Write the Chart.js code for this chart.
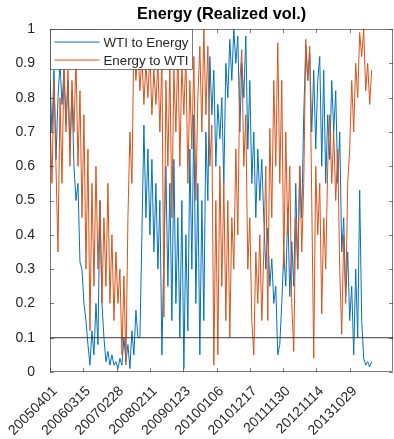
<!DOCTYPE html>
<html>
<head>
<meta charset="utf-8">
<script src="https://cdn.jsdelivr.net/npm/chart.js@4.4.0/dist/chart.umd.min.js"></script>
<style>
  body { margin: 0; background: #fff; }
  canvas { display: block; }
</style>
</head>
<body>
<canvas id="myChart" width="394" height="439"></canvas>
<script>
// tick labels on the x axis (week number -> date)
var tickWeeks = [1, 51, 101, 151, 201, 251, 301, 351, 401, 451];
var tickDates = ["20050401", "20060315", "20070228", "20080211", "20090123",
                 "20100106", "20101217", "20111130", "20121114", "20131029"];

// values, one every 3 weeks
var wtiToEnergy = [
  0.85, 0.7, 0.88, 0.62, 0.8, 0.9, 0.78, 0.88, 0.72, 0.85,
  0.65, 0.82, 0.6, 0.5, 0.55, 0.32, 0.3, 0.2, 0.15, 0.08,
  0.02, 0.12, 0.05, 0.2, 0.08, 0.5, 0.2, 0.1, 0.03, 0.06,
  0.02, 0.05, 0.02, 0.03, 0.01, 0.04, 0.02, 0.1, 0.03, 0.08,
  0.01, 0.12, 0.05, 0.18, 0.1, 0.1, 0.4, 0.72, 0.45, 0.65,
  0.4, 0.62, 0.35, 0.55, 0.3, 0.5, 0.05, 0.35, 0.6, 0.25,
  0.55, 0.15, 0.62, 0.2, 0.45, 0.1, 0.5, 0.01, 0.4, 0.12,
  0.65, 0.3, 0.75, 0.2, 0.55, 0.05, 0.5, 0.15, 0.7, 0.5,
  0.92, 0.75, 0.88, 0.6, 0.78, 0.68, 0.8, 0.55, 0.9, 0.8,
  0.97, 0.85, 1.0, 0.9, 0.98, 0.7, 0.9, 0.8, 0.98, 0.65,
  0.85, 0.55, 0.7, 0.45, 0.65, 0.5, 0.62, 0.45, 0.3, 0.42,
  0.25, 0.33, 0.2, 0.25, 0.05, 0.08, 0.2, 0.35, 0.25, 0.48,
  0.22, 0.38, 0.25, 0.55, 0.3, 0.6, 0.45, 0.75, 0.95, 0.85,
  0.93, 0.7, 0.88, 0.65, 0.85, 0.92, 0.6, 0.88, 0.55, 0.75,
  0.62, 0.85, 0.7, 0.82, 0.55, 0.7, 0.35, 0.45, 0.22, 0.35,
  0.15, 0.25, 0.05, 0.3, 0.1, 0.53, 0.15, 0.04, 0.02, 0.03,
  0.015, 0.03
];
var energyToWti = [
  0.75, 0.55, 0.85, 0.6, 0.35, 0.8, 0.55, 0.9, 0.7, 0.88,
  0.6, 0.85, 0.7, 0.92, 0.6, 0.82, 0.45, 0.75, 0.3, 0.65,
  0.12, 0.55, 0.25, 0.6, 0.3, 0.5, 0.2, 0.45, 0.25, 0.55,
  0.2, 0.4, 0.15, 0.35, 0.2, 0.3, 0.05, 0.28, 0.02, 0.45,
  0.7, 0.55, 0.98, 0.85, 0.95, 0.82, 0.92, 0.78, 0.9, 0.8,
  0.93, 0.75, 0.88, 0.78, 0.9, 0.7, 0.92, 0.16, 0.85, 0.6,
  0.9, 0.45, 0.88, 0.7, 0.95, 0.6, 0.9, 0.75, 0.93, 0.55,
  0.85, 0.65, 0.92, 0.5, 0.8, 0.95, 0.7, 1.0, 0.75, 0.95,
  0.6, 0.72, 0.02, 0.5, 0.05, 0.6, 0.25, 0.55, 0.15, 0.5,
  0.1, 0.45, 0.3, 0.65, 0.4, 0.85, 0.94, 0.6, 0.75, 0.3,
  0.45, 0.15, 0.05, 0.35, 0.2, 0.4, 0.15, 0.35, 0.6, 0.15,
  0.71, 0.45, 0.85, 0.6, 0.96, 0.55, 0.85, 0.3, 0.7, 0.4,
  0.6, 0.2, 0.06, 0.45, 0.3, 0.6, 0.35, 0.55, 0.97, 0.85,
  0.95, 0.5, 0.04, 0.6, 0.4, 0.55, 0.17, 0.45, 0.3, 0.6,
  0.75, 0.55, 0.7, 0.5, 0.65, 0.3, 0.11, 0.4, 0.2, 0.55,
  0.65, 0.85, 0.7, 0.9, 0.8, 0.99, 0.92, 1.0, 0.82, 0.9,
  0.78, 0.88
];
var threshold = 0.1;

function toPoints(vals) {
  return vals.map(function (v, i) { return { x: 1 + 3 * i, y: v }; });
}

var fontFam = "'Liberation Sans', Arial, Helvetica, sans-serif";
var axisCol = "#262626";

// MATLAB style box, inward ticks and legend
var boxPlugin = {
  id: "boxPlugin",
  afterDraw: function (chart) {
    var ctx = chart.ctx, a = chart.chartArea;
    var xs = chart.scales.x, ys = chart.scales.y;
    ctx.save();
    ctx.strokeStyle = axisCol;
    ctx.lineWidth = 0.6;
    ctx.strokeRect(a.left + 0.5, a.top + 0.5, a.right - a.left - 1, a.bottom - a.top - 1);
    ctx.beginPath();
    xs.ticks.forEach(function (t) {
      var px = Math.round(xs.getPixelForValue(t.value)) + 0.5;
      ctx.moveTo(px, a.bottom); ctx.lineTo(px, a.bottom - 4);
      ctx.moveTo(px, a.top); ctx.lineTo(px, a.top + 4);
    });
    ys.ticks.forEach(function (t) {
      var py = Math.round(ys.getPixelForValue(t.value)) + 0.5;
      ctx.moveTo(a.left, py); ctx.lineTo(a.left + 4, py);
      ctx.moveTo(a.right, py); ctx.lineTo(a.right - 4, py);
    });
    ctx.stroke();

    // legend
    var lx = a.left + 0.5, ly = a.top + 0.5, lw = 142, lh = 40;
    ctx.fillStyle = "#fff";
    ctx.fillRect(lx, ly, lw, lh);
    ctx.strokeStyle = axisCol;
    ctx.lineWidth = 0.6;
    ctx.strokeRect(lx, ly, lw, lh);
    var items = [
      { label: chart.data.datasets[2].label, color: chart.data.datasets[2].borderColor },
      { label: chart.data.datasets[1].label, color: chart.data.datasets[1].borderColor }
    ];
    ctx.font = "13.3px " + fontFam;
    ctx.textBaseline = "middle";
    items.forEach(function (it, k) {
      var yy = ly + 12.5 + k * 18;
      ctx.strokeStyle = it.color;
      ctx.lineWidth = 1;
      ctx.beginPath();
      ctx.moveTo(lx + 4, yy); ctx.lineTo(lx + 49, yy);
      ctx.stroke();
      ctx.fillStyle = axisCol;
      ctx.fillText(it.label, lx + 53, yy + 1);
    });
    ctx.restore();
  }
};

var ctx = document.getElementById("myChart").getContext("2d");
var myChart = new Chart(ctx, {
  type: "line",
  data: {
    datasets: [
      {
        label: "threshold",
        data: [{ x: 1, y: threshold }, { x: 516, y: threshold }],
        borderColor: "#3a3a3a",
        borderWidth: 1,
        pointRadius: 0,
        order: 1
      },
      {
        label: "Energy to WTI",
        data: toPoints(energyToWti),
        borderColor: "#D95319",
        borderWidth: 1,
        pointRadius: 0,
        borderJoinStyle: "round",
        order: 2
      },
      {
        label: "WTI to Energy",
        data: toPoints(wtiToEnergy),
        borderColor: "#0072BD",
        borderWidth: 1,
        pointRadius: 0,
        borderJoinStyle: "round",
        order: 3
      }
    ]
  },
  options: {
    responsive: false,
    animation: false,
    layout: { padding: { right: 1, left: 0, top: 0, bottom: 0 } },
    plugins: {
      legend: { display: false },
      tooltip: { enabled: false },
      title: {
        display: true,
        text: "Energy (Realized vol.)",
        fullSize: false,
        color: "#000",
        font: { family: fontFam, size: 16.3, weight: "bold" },
        padding: { top: 5, bottom: 4.5 }
      }
    },
    scales: {
      x: {
        type: "linear",
        min: 1,
        max: 516,
        grid: { display: false },
        border: { display: false },
        afterBuildTicks: function (s) {
          s.ticks = tickWeeks.map(function (w) { return { value: w }; });
        },
        afterFit: function (s) {
          s.height = 67;
          s.paddingLeft = 0;
          s.paddingRight = 0;
        },
        ticks: {
          minRotation: 45,
          maxRotation: 45,
          autoSkip: false,
          padding: 3,
          labelOffset: 5,
          color: axisCol,
          font: { family: fontFam, size: 14 },
          callback: function (v) {
            var k = tickWeeks.indexOf(v);
            return k >= 0 ? tickDates[k] : "";
          }
        }
      },
      y: {
        min: 0,
        max: 1,
        grid: { display: false },
        border: { display: false },
        afterFit: function (s) { s.width = 50; },
        ticks: {
          stepSize: 0.1,
          padding: 7,
          color: axisCol,
          font: { family: fontFam, size: 14 },
          callback: function (v) { return String(Math.round(v * 10) / 10); }
        }
      }
    }
  },
  plugins: [boxPlugin]
});
</script>
</body>
</html>
